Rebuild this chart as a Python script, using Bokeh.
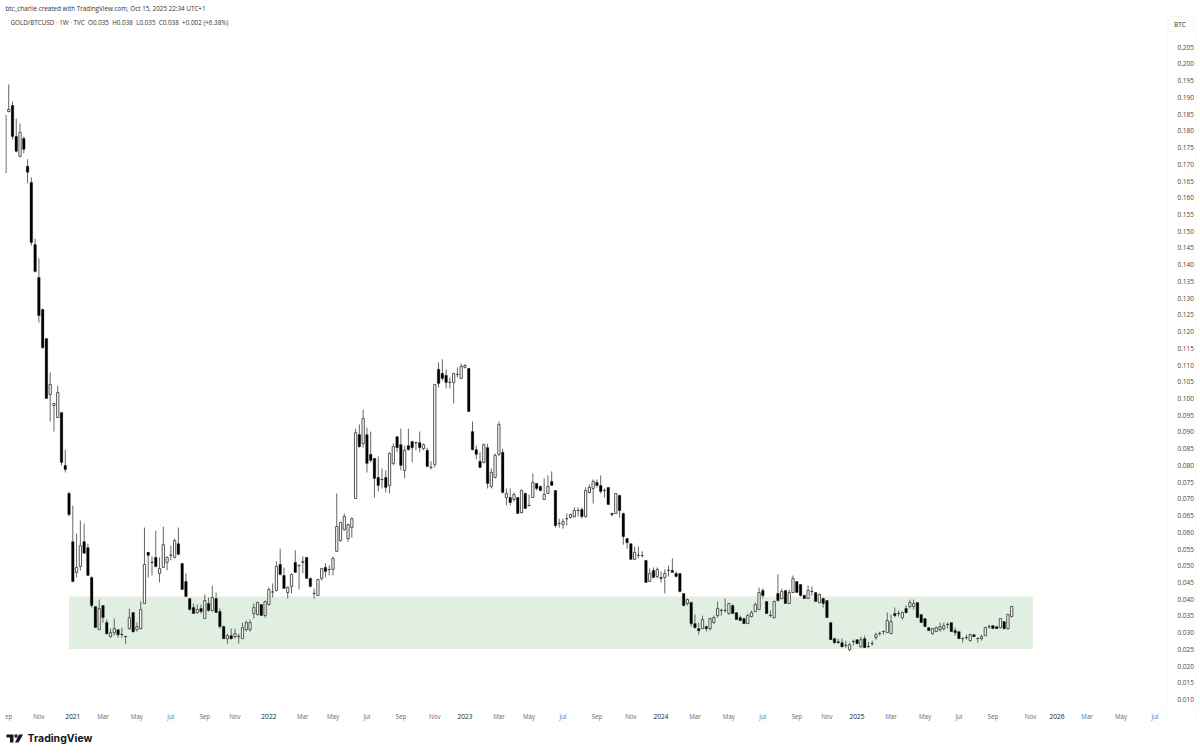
from bokeh.embed import file_html
from bokeh.resources import INLINE
from bokeh.plotting import figure
from bokeh.models import (ColumnDataSource, Range1d, FixedTicker, Label, PolyAnnotation, NumeralTickFormatter,
                          DatetimeAxis, LinearAxis)
import pandas as pd

first_week = "2020-08-31"
opens = [
.1675,.1858,.1876,.1783,.1724,.1777,.1694,.1646,.1460,.1362,
.1266,.1179,.1012,.0979,.0943,.0958,.0800,.0716,.0572,.0480,
.0498,.0572,.0554,.0465,.0378,.0309,.0381,.0330,.0288,.0300,
.0309,.0295,.0289,.0312,.0360,.0309,.0312,.0387,.0540,.0511,
.0525,.0477,.0495,.0510,.0531,.0525,.0566,.0507,.0453,.0402,
.0375,.0360,.0372,.0342,.0387,.0366,.0402,.0363,.0318,.0282,
.0291,.0288,.0288,.0282,.0309,.0309,.0357,.0354,.0384,.0351,
.0384,.0422,.0426,.0504,.0471,.0420,.0438,.0510,.0500,.0510,
.0525,.0462,.0418,.0411,.0462,.0495,.0489,.0489,.0543,.0575,
.0608,.0581,.0614,.0701,.0892,.0865,.0892,.0833,.0821,.0764,
.0758,.0764,.0740,.0806,.0886,.0862,.0785,.0859,.0871,.0868,
.0868,.0850,.0845,.0795,.0803,.1087,.1075,.1069,.1049,.1048,
.1073,.1060,.1093,.1090,.0901,.0847,.0812,.0809,.0853,.0737,
.0764,.0833,.0839,.0704,.0704,.0698,.0704,.0659,.0716,.0681,
.0704,.0746,.0737,.0698,.0716,.0752,.0725,.0627,.0623,.0640,
.0644,.0647,.0666,.0668,.0647,.0719,.0731,.0749,.0740,.0726,
.0734,.0656,.0656,.0710,.0656,.0581,.0566,.0519,.0532,.0531,
.0516,.0453,.0486,.0468,.0465,.0465,.0487,.0486,.0477,.0477,
.0417,.0387,.0390,.0327,.0312,.0312,.0318,.0312,.0330,.0351,
.0367,.0367,.0357,.0381,.0360,.0345,.0342,.0327,.0348,.0363,
.0369,.0426,.0393,.0352,.0345,.0417,.0402,.0426,.0387,.0420,
.0453,.0444,.0411,.0402,.0424,.0420,.0390,.0402,.0396,.0330,
.0282,.0273,.0270,.0262,.0249,.0274,.0279,.0258,.0282,.0259,
.0268,.0285,.0298,.0304,.0300,.0297,.0357,.0358,.0345,.0372,
.0378,.0378,.0390,.0354,.0342,.0315,.0297,.0303,.0309,.0312,
.0325,.0330,.0306,.0303,.0283,.0286,.0276,.0294,.0283,.0282,
.0291,.0317,.0321,.0318,.0315,.0333,.0312,.0348]
highs = [
.1846,.1939,.1888,.1837,.1822,.1783,.1715,.1661,.1478,.1419,
.1269,.1179,.1078,.0985,.1039,.0958,.0847,.0722,.0680,.0596,
.0635,.0626,.0566,.0468,.0378,.0399,.0381,.0339,.0312,.0342,
.0309,.0315,.0288,.0372,.0360,.0330,.0393,.0614,.0540,.0528,
.0605,.0525,.0617,.0528,.0560,.0581,.0614,.0507,.0477,.0402,
.0387,.0384,.0384,.0414,.0405,.0441,.0420,.0372,.0321,.0297,
.0312,.0312,.0297,.0330,.0336,.0339,.0387,.0393,.0384,.0396,
.0435,.0447,.0513,.0551,.0495,.0438,.0477,.0546,.0504,.0528,
.0525,.0465,.0432,.0459,.0492,.0507,.0501,.0528,.0716,.0632,
.0656,.0626,.0644,.0910,.0922,.0967,.0913,.0901,.0821,.0827,
.0791,.0785,.0839,.0865,.0886,.0910,.0859,.0910,.0874,.0871,
.0901,.0865,.0853,.0812,.1042,.1108,.1117,.1087,.1063,.1075,
.1093,.1105,.1102,.1090,.0931,.0859,.0839,.0865,.0865,.0791,
.0836,.0931,.0850,.0731,.0731,.0719,.0704,.0728,.0719,.0713,
.0776,.0746,.0740,.0761,.0770,.0782,.0725,.0641,.0641,.0656,
.0656,.0674,.0674,.0674,.0734,.0743,.0758,.0758,.0770,.0731,
.0734,.0659,.0716,.0713,.0659,.0584,.0566,.0557,.0557,.0543,
.0516,.0492,.0495,.0495,.0483,.0489,.0501,.0522,.0483,.0477,
.0417,.0402,.0393,.0354,.0330,.0351,.0321,.0345,.0351,.0393,
.0372,.0402,.0387,.0384,.0360,.0351,.0345,.0357,.0366,.0390,
.0435,.0432,.0393,.0366,.0396,.0474,.0432,.0426,.0429,.0471,
.0453,.0444,.0414,.0441,.0438,.0420,.0417,.0405,.0396,.0330,
.0285,.0282,.0282,.0276,.0270,.0279,.0279,.0288,.0291,.0273,
.0276,.0300,.0303,.0306,.0360,.0354,.0375,.0366,.0363,.0381,
.0399,.0399,.0390,.0354,.0342,.0315,.0312,.0318,.0330,.0330,
.0330,.0330,.0315,.0303,.0285,.0294,.0297,.0294,.0285,.0294,
.0318,.0324,.0321,.0318,.0342,.0333,.0357,.0380]
lows = [
.1675,.1855,.1774,.1736,.1721,.1733,.1643,.1457,.1377,.1227,
.1149,.1000,.0931,.0901,.0943,.0800,.0779,.0647,.0450,.0465,
.0486,.0537,.0471,.0375,.0315,.0309,.0330,.0294,.0285,.0291,
.0285,.0285,.0267,.0309,.0300,.0303,.0309,.0387,.0465,.0471,
.0495,.0450,.0495,.0486,.0516,.0522,.0531,.0429,.0408,.0366,
.0357,.0357,.0357,.0342,.0363,.0363,.0360,.0312,.0282,.0267,
.0279,.0282,.0267,.0282,.0303,.0303,.0342,.0351,.0351,.0345,
.0381,.0405,.0423,.0471,.0432,.0402,.0417,.0480,.0429,.0477,
.0462,.0435,.0402,.0411,.0456,.0465,.0471,.0471,.0543,.0572,
.0605,.0572,.0584,.0701,.0853,.0853,.0779,.0809,.0704,.0722,
.0731,.0719,.0716,.0800,.0839,.0785,.0761,.0845,.0809,.0845,
.0839,.0845,.0794,.0788,.0794,.1033,.1054,.1030,.1030,.0985,
.1063,.1060,.1090,.0961,.0845,.0818,.0791,.0806,.0731,.0731,
.0761,.0827,.0716,.0680,.0680,.0692,.0656,.0656,.0671,.0677,
.0704,.0725,.0722,.0698,.0716,.0740,.0614,.0614,.0611,.0620,
.0641,.0644,.0647,.0641,.0644,.0716,.0686,.0734,.0716,.0704,
.0683,.0647,.0656,.0644,.0563,.0551,.0519,.0519,.0522,.0525,
.0450,.0453,.0462,.0462,.0450,.0417,.0468,.0480,.0465,.0420,
.0378,.0381,.0318,.0312,.0294,.0312,.0303,.0306,.0327,.0345,
.0351,.0360,.0354,.0357,.0339,.0336,.0327,.0327,.0345,.0363,
.0369,.0402,.0357,.0345,.0342,.0393,.0399,.0387,.0387,.0420,
.0420,.0408,.0402,.0402,.0411,.0393,.0387,.0375,.0345,.0279,
.0267,.0267,.0255,.0255,.0246,.0261,.0267,.0255,.0255,.0255,
.0261,.0279,.0291,.0294,.0300,.0297,.0345,.0348,.0339,.0357,
.0372,.0369,.0345,.0330,.0318,.0306,.0294,.0303,.0303,.0306,
.0312,.0303,.0291,.0282,.0270,.0279,.0273,.0288,.0270,.0276,
.0291,.0312,.0312,.0312,.0312,.0309,.0309,.0346]
closes = [
.1846,.1864,.1783,.1739,.1795,.1745,.1676,.1466,.1380,.1248,
.1152,.1000,.1042,.0985,.1018,.0809,.0788,.0653,.0453,.0495,
.0560,.0537,.0471,.0381,.0315,.0372,.0345,.0297,.0300,.0312,
.0294,.0294,.0288,.0345,.0303,.0318,.0369,.0504,.0531,.0510,
.0498,.0492,.0563,.0525,.0532,.0575,.0534,.0429,.0408,.0369,
.0357,.0369,.0363,.0396,.0366,.0405,.0360,.0318,.0282,.0291,
.0282,.0297,.0289,.0315,.0330,.0330,.0375,.0390,.0351,.0393,
.0429,.0421,.0498,.0474,.0432,.0435,.0474,.0480,.0501,.0513,
.0462,.0438,.0417,.0459,.0492,.0483,.0488,.0522,.0617,.0629,
.0647,.0623,.0641,.0898,.0856,.0940,.0806,.0815,.0761,.0740,
.0757,.0734,.0836,.0856,.0853,.0800,.0845,.0847,.0853,.0867,
.0853,.0862,.0797,.0794,.1042,.1045,.1060,.1048,.1048,.1075,
.1072,.1096,.1099,.0961,.0847,.0833,.0794,.0862,.0746,.0779,
.0830,.0922,.0719,.0716,.0689,.0713,.0656,.0725,.0671,.0680,
.0749,.0731,.0725,.0713,.0737,.0740,.0620,.0626,.0632,.0641,
.0653,.0665,.0665,.0647,.0725,.0734,.0752,.0740,.0722,.0725,
.0683,.0653,.0716,.0665,.0587,.0569,.0519,.0540,.0531,.0530,
.0450,.0477,.0465,.0489,.0462,.0477,.0486,.0480,.0468,.0423,
.0381,.0399,.0327,.0315,.0306,.0339,.0312,.0342,.0345,.0372,
.0366,.0366,.0387,.0357,.0339,.0336,.0327,.0351,.0360,.0384,
.0420,.0411,.0357,.0351,.0393,.0396,.0423,.0387,.0420,.0462,
.0420,.0411,.0402,.0426,.0423,.0393,.0414,.0387,.0345,.0279,
.0270,.0270,.0258,.0261,.0264,.0273,.0267,.0279,.0255,.0258,
.0267,.0294,.0297,.0303,.0336,.0333,.0351,.0357,.0360,.0360,
.0390,.0387,.0345,.0330,.0318,.0306,.0312,.0315,.0318,.0321,
.0324,.0303,.0300,.0282,.0282,.0285,.0294,.0288,.0282,.0288,
.0315,.0318,.0312,.0312,.0342,.0312,.0354,.0378]

month_dates = ["2020-09-07","2020-11-02","2021-03-01","2021-05-03","2021-07-05","2021-09-06","2021-11-01",
               "2022-03-07","2022-05-02","2022-07-04","2022-09-05","2022-11-07",
               "2023-03-06","2023-05-01","2023-07-03","2023-09-04","2023-11-06",
               "2024-03-04","2024-05-06","2024-07-08","2024-09-09","2024-11-04",
               "2025-03-03","2025-05-05","2025-07-07","2025-09-08","2025-11-17",
               "2026-03-02","2026-05-04","2026-07-06"]
month_labels = ["ep","Nov","Mar","May","Jul","Sep","Nov",
                "Mar","May","Jul","Sep","Nov",
                "Mar","May","Jul","Sep","Nov",
                "Mar","May","Jul","Sep","Nov",
                "Mar","May","Jul","Sep","Nov",
                "Mar","May","Jul"]
year_dates = ["2021-01-04","2022-01-03","2023-01-02","2024-01-01","2024-12-30","2026-01-05"]
year_labels = ["2021","2022","2023","2024","2025","2026"]
price_ticks = [.205,.200,.195,.190,.185,.180,.175,.170,.165,.160,.155,.150,.145,.140,.135,.130,.125,.120,.115,.110,
               .105,.100,.095,.090,.085,.080,.075,.070,.065,.060,.055,.050,.045,.040,.035,.030,.025,.020,.015,.010]
zone_start, zone_end = "2020-12-28", "2025-11-21"
zone_low, zone_high = 0.0251, 0.0408
range_start, range_end = "2020-08-22T18:00", "2026-09-28T12:00"
price_min, price_max = -0.00643, 0.21898
axis_price_level = 0.0085
axis_date_level = "2026-07-31"

header = "btc_charlie created with TradingView.com, Oct 15, 2025 22:34 UTC+1"
title = "GOLD/BTCUSD · 1W · TVC\u00a0\u00a0O0.035\u00a0\u00a0H0.038\u00a0\u00a0L0.035\u00a0\u00a0C0.038\u00a0\u00a0+0.002 (+6.38%)"

W, H = 1200, 754
FONT = "Open Sans"
BORDER = "#eeeeee"

dates = pd.date_range(first_week, periods=len(opens), freq="7D")
week_ms = 7 * 24 * 3600 * 1000
src = ColumnDataSource(dict(t=dates, o=opens, h=highs, l=lows, c=closes))
up_idx = [i for i in range(len(opens)) if closes[i] >= opens[i]]
dn_idx = [i for i in range(len(opens)) if closes[i] < opens[i]]
up = ColumnDataSource(dict(t=dates[up_idx], top=[closes[i] for i in up_idx], bot=[opens[i] for i in up_idx]))
dn = ColumnDataSource(dict(t=dates[dn_idx], top=[opens[i] for i in dn_idx], bot=[closes[i] for i in dn_idx]))

p = figure(width=W, height=H, x_axis_type="datetime", x_axis_location=None, y_axis_location=None,
           output_backend="svg", toolbar_location=None,
           x_range=Range1d(pd.Timestamp(range_start), pd.Timestamp(range_end)),
           y_range=Range1d(price_min, price_max),
           min_border=0, outline_line_color=None, background_fill_color="white", border_fill_color="white")
p.grid.visible = False

p.quad(left=[pd.Timestamp(zone_start)], right=[pd.Timestamp(zone_end)], bottom=[zone_low], top=[zone_high],
       fill_color="#e0efe2", line_color=None)
p.segment("t", "h", "t", "l", source=src, line_color="#555555", line_width=0.9)
p.vbar("t", week_ms * 0.6, "top", "bot", source=up, fill_color="white", line_color="#444444", line_width=0.9)
p.vbar("t", week_ms * 0.68, "top", "bot", source=dn, fill_color="black", line_color="black", line_width=0.3)


def shape(xs, ys, fill=None, line=None):
    p.add_layout(PolyAnnotation(xs=list(xs), ys=[H - y for y in ys], xs_units="screen", ys_units="screen",
                                fill_color=fill, fill_alpha=1 if fill else 0, line_color=line, line_width=1))


def text(x, y, s, size, color="#333333", style="normal", font=FONT):
    p.add_layout(Label(x=x, y=H - y, x_units="screen", y_units="screen", text=s, text_font=font,
                       text_font_size=size, text_color=color, text_font_style=style, text_baseline="middle"))


# pane mask and borders
shape([0, 4.8, 4.8, 0], [0, 0, 730, 730], fill="white")
shape([5, 1195, 1195, 5], [14, 14, 722, 722], line=BORDER)
shape([5, 1195], [707, 707], line=BORDER)
shape([1167, 1167], [14, 722], line=BORDER)
shape([1168, 1193, 1193, 1168], [16, 16, 31, 31], line=BORDER)


def date_axis(dts, labels, size, color, standoff):
    ax = DatetimeAxis(fixed_location=axis_price_level)
    ticks = [int(pd.Timestamp(d).value // 10**6) for d in dts]
    ax.ticker = FixedTicker(ticks=ticks)
    ax.major_label_overrides = dict(zip(ticks, labels))
    ax.axis_line_color = None
    ax.major_tick_line_color = None
    ax.minor_tick_line_color = None
    ax.major_label_text_font = FONT
    ax.major_label_text_font_size = size
    ax.major_label_text_color = color
    ax.major_label_standoff = standoff
    p.add_layout(ax, "below")


date_axis(month_dates, month_labels, "6.2px", "#666666", 1)
date_axis(year_dates, year_labels, "6.6px", "#222222", 3)

ya = LinearAxis(fixed_location=pd.Timestamp(axis_date_level).value / 1e6)
ya.ticker = FixedTicker(ticks=price_ticks)
ya.formatter = NumeralTickFormatter(format="0.000")
ya.axis_line_color = None
ya.major_tick_line_color = None
ya.minor_tick_line_color = None
ya.major_label_text_font = FONT
ya.major_label_text_font_size = "6.5px"
ya.major_label_text_color = "#444444"
ya.major_label_standoff = 3
p.add_layout(ya, "right")

text(5, 8, header, "6.3px")
text(10, 21.5, title, "6.3px")
text(1173.5, 23.5, "BTC", "6.5px")
text(27, 738, "TradingView", "10.5px", color="#131722", font="Inter", style="bold")

# TradingView logo
shape([6, 13, 13, 9.5, 9.5, 6], [734, 734, 742, 742, 737, 737], fill="#131722")
shape([14, 17, 17, 14], [734, 734, 737, 737], fill="#131722")
shape([18.5, 22.5, 18, 14.5], [734, 734, 742, 742], fill="#131722")

open("out.html", "w").write(file_html(p, INLINE))
